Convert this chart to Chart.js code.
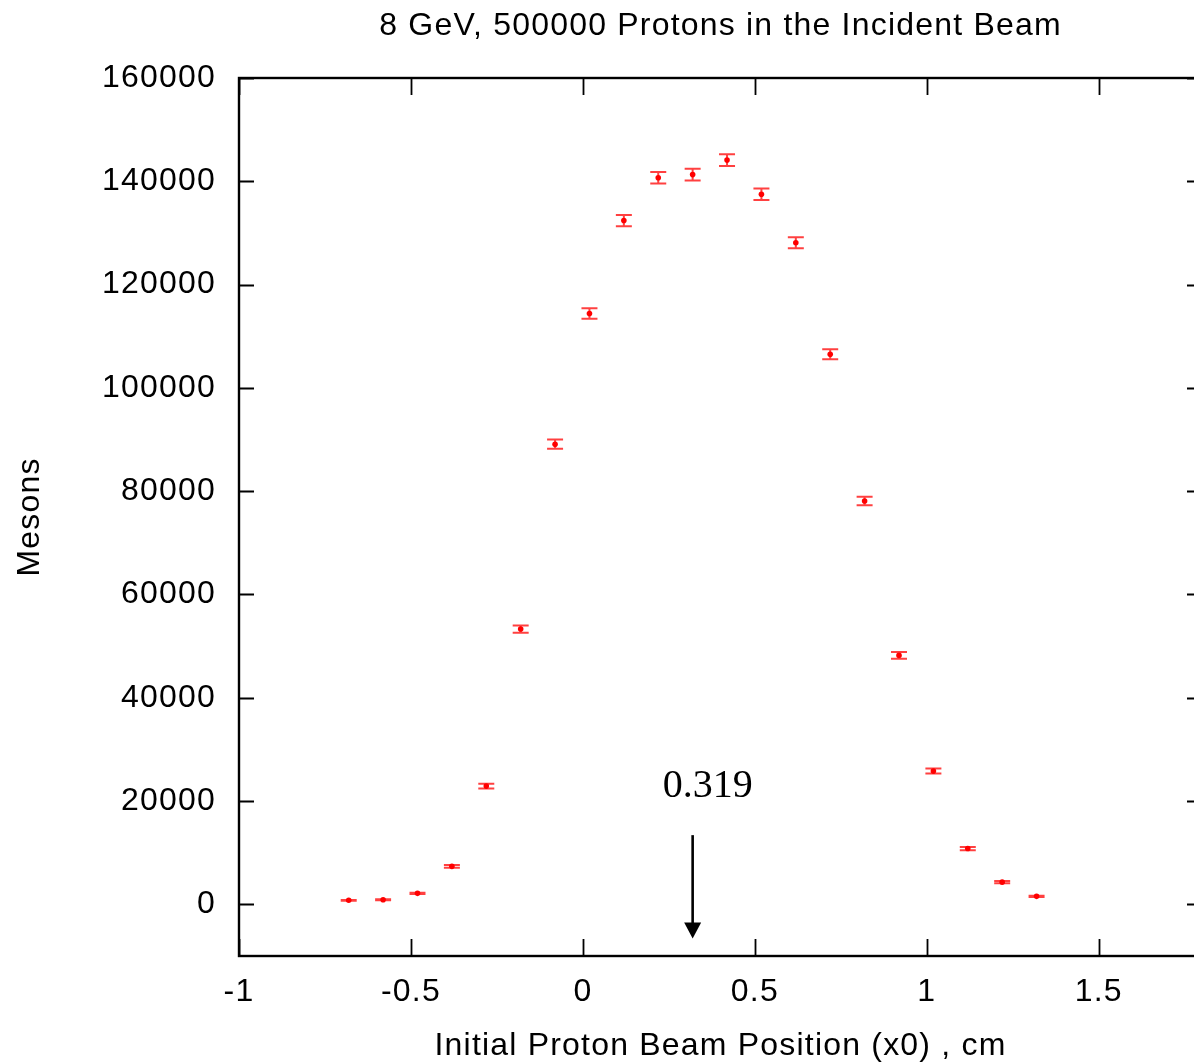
<!DOCTYPE html>
<html>
<head>
<meta charset="utf-8">
<title>Mesons vs initial proton beam position</title>
<script src="https://cdn.jsdelivr.net/npm/chart.js@4.4.1/dist/chart.umd.min.js"></script>
<style>
    html, body { margin: 0; padding: 0; background: #fff; overflow: hidden; }
    #wrap { position: absolute; left: 0; top: 0; }
</style>
</head>
<body>
<div id="wrap"><canvas id="mesonChart" width="1214" height="1064"></canvas></div>
<script>
// beam positions (cm) and meson counts with their errors
const beamPositions = [-0.681, -0.581, -0.481, -0.381, -0.281, -0.181, -0.081, 0.019, 0.119, 0.219,
    0.319, 0.419, 0.519, 0.619, 0.719, 0.819, 0.919, 1.019, 1.119, 1.219, 1.319];
const mesonCounts = [780, 900, 2130, 7360, 22900, 53300, 89100, 114400, 132400, 140700,
    141300, 144100, 137500, 128100, 106500, 78100, 48200, 25800, 10800, 4300, 1550];
const mesonErrors = [80, 90, 140, 260, 450, 690, 890, 1010, 1090, 1120,
    1130, 1140, 1110, 1070, 980, 840, 660, 480, 310, 200, 120];

const xTickValues = [-1, -0.5, 0, 0.5, 1, 1.5];
const yTickValues = [0, 20000, 40000, 60000, 80000, 100000, 120000, 140000, 160000];

// marked optimum position and the y span of its arrow
const markedPosition = 0.319;
const arrowSpan = [13400, -6600];

const SPACING = '1.2px';
const sansFont = { family: 'Liberation Sans, Arial, sans-serif', size: 32, weight: 'normal' };

function setSpacing(chart) {
    chart.ctx.letterSpacing = SPACING;
}

// frame with inward ticks on all four sides, gnuplot style
const framePlugin = {
    id: 'frame',
    afterInit: setSpacing,
    beforeUpdate: setSpacing,
    beforeDraw: setSpacing,
    afterDatasetsDraw(chart) {
        const ctx = chart.ctx;
        const { left, right, top, bottom } = chart.chartArea;
        const xs = chart.scales.x, ys = chart.scales.y;
        ctx.save();
        ctx.strokeStyle = '#000';
        ctx.lineWidth = 2.4;
        ctx.strokeRect(left, top, right - left, bottom - top);
        ctx.lineWidth = 1.8;
        ctx.beginPath();
        xTickValues.forEach(v => {
            const px = Math.round(xs.getPixelForValue(v)) + 0.5;
            ctx.moveTo(px, bottom); ctx.lineTo(px, bottom - 17);
            ctx.moveTo(px, top); ctx.lineTo(px, top + 17);
        });
        yTickValues.forEach(v => {
            const py = Math.round(ys.getPixelForValue(v)) + 0.5;
            ctx.moveTo(left, py); ctx.lineTo(left + 15, py);
            ctx.moveTo(right, py); ctx.lineTo(right - 15, py);
        });
        ctx.stroke();
        ctx.restore();
    }
};

// vertical error bars with caps
const errorBarPlugin = {
    id: 'errorBars',
    beforeDatasetsDraw(chart) {
        const ctx = chart.ctx;
        const xs = chart.scales.x, ys = chart.scales.y;
        ctx.save();
        ctx.strokeStyle = 'rgba(255, 0, 0, 0.75)';
        ctx.lineWidth = 2;
        ctx.beginPath();
        beamPositions.forEach((x, i) => {
            const px = xs.getPixelForValue(x);
            const hi = ys.getPixelForValue(mesonCounts[i] + mesonErrors[i]);
            const lo = ys.getPixelForValue(mesonCounts[i] - mesonErrors[i]);
            ctx.moveTo(px, hi); ctx.lineTo(px, lo);
            ctx.moveTo(px - 8, hi); ctx.lineTo(px + 8, hi);
            ctx.moveTo(px - 8, lo); ctx.lineTo(px + 8, lo);
        });
        ctx.stroke();
        ctx.restore();
    }
};

// arrow and label at the marked position
const markerPlugin = {
    id: 'marker',
    afterDraw(chart) {
        const ctx = chart.ctx;
        const xs = chart.scales.x, ys = chart.scales.y;
        const px = xs.getPixelForValue(markedPosition);
        const y0 = ys.getPixelForValue(arrowSpan[0]);
        const y1 = ys.getPixelForValue(arrowSpan[1]);
        ctx.save();
        ctx.strokeStyle = '#000';
        ctx.fillStyle = '#000';
        ctx.lineWidth = 2.6;
        ctx.beginPath();
        ctx.moveTo(px, y0);
        ctx.lineTo(px, y1 - 14);
        ctx.stroke();
        ctx.beginPath();
        ctx.moveTo(px - 8.5, y1 - 16);
        ctx.lineTo(px + 8.5, y1 - 16);
        ctx.lineTo(px, y1);
        ctx.closePath();
        ctx.fill();
        ctx.letterSpacing = '0px';
        ctx.font = '40px "Liberation Serif", "Times New Roman", serif';
        ctx.textAlign = 'center';
        ctx.textBaseline = 'alphabetic';
        ctx.fillText(String(markedPosition), px + 15, y0 - 38);
        ctx.restore();
    }
};

const ctx = document.getElementById('mesonChart').getContext('2d');

new Chart(ctx, {
    type: 'scatter',
    data: {
        datasets: [{
            label: 'Mesons',
            data: beamPositions.map((x, i) => ({ x: x, y: mesonCounts[i] })),
            backgroundColor: '#ff0000',
            borderWidth: 0,
            pointRadius: 2.8,
            pointHoverRadius: 2.8
        }]
    },
    options: {
        responsive: false,
        animation: false,
        events: [],
        layout: { padding: { top: 0, right: 12, bottom: 0, left: 0 } },
        plugins: {
            legend: { display: false },
            tooltip: { enabled: false },
            title: {
                display: true,
                fullSize: false,
                text: '8 GeV, 500000 Protons in the Incident Beam',
                color: '#000',
                font: sansFont,
                padding: { top: 7, bottom: 32.6 }
            }
        },
        scales: {
            x: {
                type: 'linear',
                min: -1,
                max: 1.8,
                grid: { display: false, drawTicks: false },
                border: { display: false },
                afterBuildTicks: scale => { scale.ticks = xTickValues.map(v => ({ value: v })); },
                afterFit: scale => { scale.height = 108; },
                ticks: {
                    color: '#000',
                    font: sansFont,
                    padding: 17,
                    maxRotation: 0,
                    callback: v => String(v)
                },
                title: {
                    display: true,
                    text: 'Initial Proton Beam Position (x0) , cm',
                    color: '#000',
                    font: sansFont,
                    padding: { top: 0, bottom: -1 }
                }
            },
            y: {
                type: 'linear',
                min: -10000,
                max: 160000,
                grid: { display: false, drawTicks: false },
                border: { display: false },
                afterBuildTicks: scale => { scale.ticks = yTickValues.map(v => ({ value: v })); },
                afterFit: scale => { scale.width = 239; },
                ticks: {
                    color: '#000',
                    font: sansFont,
                    padding: 23,
                    callback: v => String(v)
                },
                title: {
                    display: true,
                    text: 'Mesons',
                    color: '#000',
                    font: sansFont,
                    padding: { top: 11, bottom: 0 }
                }
            }
        }
    },
    plugins: [framePlugin, errorBarPlugin, markerPlugin]
});
</script>
</body>
</html>
